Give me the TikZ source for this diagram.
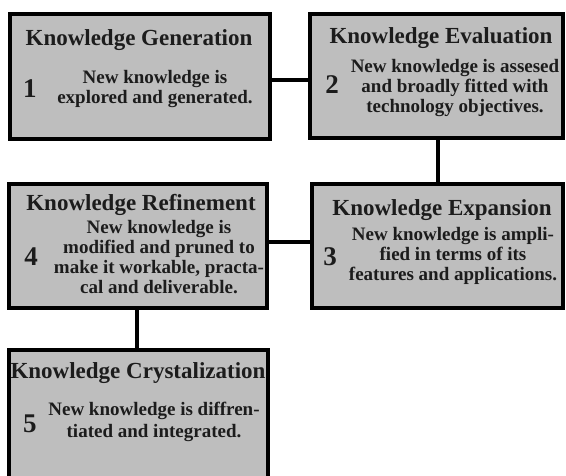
\documentclass[tikz,border=0pt]{standalone}
\usepackage{fontspec}
\setmainfont{Liberation Serif}
\definecolor{boxgray}{RGB}{190,190,190}
\definecolor{ink}{RGB}{28,28,28}
\begin{document}
\begin{tikzpicture}[x=1pt,y=-1pt,
  box/.style={draw=black, line width=4.5pt, fill=boxgray, inner sep=0pt},
  link/.style={draw=black, line width=4pt},
  ttl/.style={anchor=base, inner sep=0pt, text=ink, font=\bfseries\fontsize{23}{24}\selectfont},
  body/.style={anchor=base, inner sep=0pt, align=center, text=ink, font=\bfseries\fontsize{19}{20}\selectfont},
  num/.style={anchor=base, inner sep=0pt, text=ink, font=\bfseries\fontsize{27}{28}\selectfont}]
\useasboundingbox (0,0) rectangle (566,475);
\clip (0,0) rectangle (566,475);
\fill[white] (0,0) rectangle (566,475);
% boxes
\node[box, minimum width=260pt, minimum height=125pt] (b1) at (140,76.5) {};
\node[box, minimum width=253pt, minimum height=124pt] (b2) at (436.5,76) {};
\node[box, minimum width=251pt, minimum height=124pt] (b3) at (437.5,246) {};
\node[box, minimum width=258pt, minimum height=124pt] (b4) at (138,246) {};
\node[box, minimum width=259pt, minimum height=132pt] (b5) at (138.5,416) {};
% connectors
\draw[link] ([yshift=-3.5pt]b1.east) -- ([yshift=-3.5pt]b1.east -| b2.west);
\draw[link] ([xshift=1.5pt]b2.south) -- ([xshift=1.5pt]b2.south |- b3.north);
\draw[link] ([yshift=4pt]b4.east) -- ([yshift=4pt]b4.east -| b3.west);
\draw[link] ([xshift=-1pt]b4.south) -- ([xshift=-1pt]b4.south |- b5.north);
% box 1
\node[ttl] (t1) at (139,45) {Knowledge Generation};
\node[body] (d1) at (155,103) {New knowledge is\\explored and generated.};
\node[num] (n1) at (30,97) {1};
% box 2
\node[ttl] (t2) at (441,43) {Knowledge Evaluation};
\node[body] (d2) at (455,112) {New knowledge is assesed\\and broadly fitted with\\technology objectives.};
\node[num] (n2) at (332,93) {2};
% box 3
\node[ttl] (t3) at (442,215) {Knowledge Expansion};
\node[body] (d3) at (453,280) {New knowledge is ampli-\\fied in terms of its\\features and applications.};
\node[num] (n3) at (330,265) {3};
% box 4
\node[ttl] (t4) at (141,210) {Knowledge Refinement};
\node[body] (d4) at (159,293) {New knowledge is\\modified and pruned to\\make it workable, practa-\\cal and deliverable.};
\node[num] (n4) at (31,265) {4};
% box 5
\node[ttl] (t5) at (138,378) {Knowledge Crystalization};
\node[body, font=\bfseries\fontsize{19}{21.5}\selectfont] (d5) at (154,437) {New knowledge is diffren-\\tiated and integrated.};
\node[num] (n5) at (30,432) {5};
\end{tikzpicture}
\end{document}
